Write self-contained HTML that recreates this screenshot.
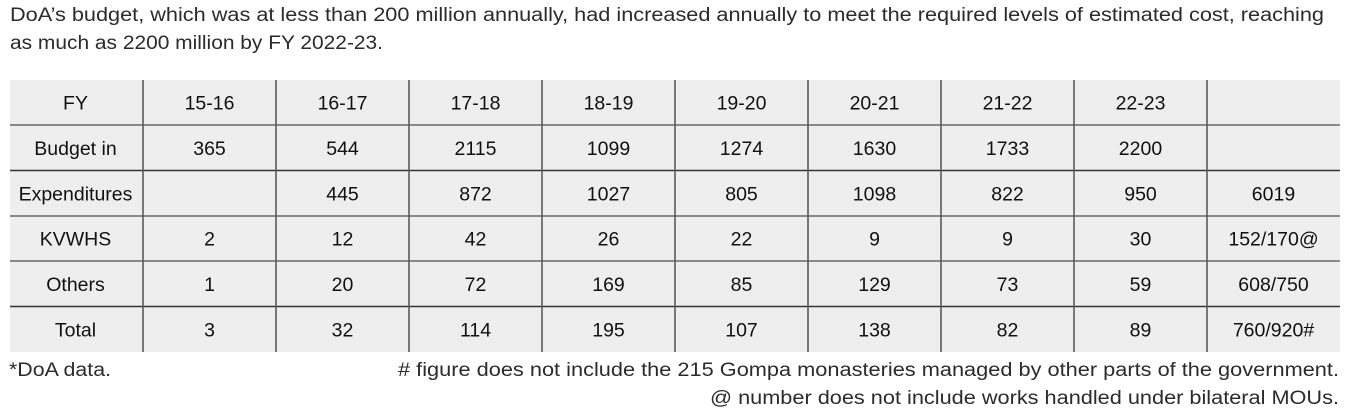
<!DOCTYPE html>
<html><head><meta charset="utf-8"><style>
html,body{margin:0;padding:0;background:#fff;width:1349px;height:415px;overflow:hidden}
svg{display:block}
.p{font-family:"Liberation Sans",sans-serif;font-size:19px;fill:#2b2b2b}
.c{font-family:"Liberation Sans",sans-serif;font-size:19.5px;fill:#111;text-anchor:middle}
</style></head><body>
<svg width="1349" height="415" viewBox="0 0 1349 415" xmlns="http://www.w3.org/2000/svg">
<text class="p" x="10" y="21" textLength="1314" lengthAdjust="spacingAndGlyphs">DoA’s budget, which was at less than 200 million annually, had increased annually to meet the required levels of estimated cost, reaching</text>
<text class="p" x="10" y="49" textLength="373" lengthAdjust="spacingAndGlyphs">as much as 2200 million by FY 2022-23.</text>
<rect x="10" y="80" width="1330" height="272" fill="#eeeeee"/>
<g stroke="#8a8a8a" stroke-width="2">
<line x1="10" y1="125" x2="1340" y2="125"/>
<line x1="10" y1="216" x2="1340" y2="216"/>
<line x1="10" y1="261" x2="1340" y2="261"/>
</g>
<g stroke="#333" stroke-width="1.6">
<line x1="10" y1="170.5" x2="1340" y2="170.5"/>
<line x1="10" y1="306.5" x2="1340" y2="306.5"/>
</g>
<g stroke="#5a5a5a" stroke-width="1.6">
<line x1="143" y1="80" x2="143" y2="352"/>
<line x1="276" y1="80" x2="276" y2="352"/>
<line x1="409" y1="80" x2="409" y2="352"/>
<line x1="542" y1="80" x2="542" y2="352"/>
<line x1="675" y1="80" x2="675" y2="352"/>
<line x1="808" y1="80" x2="808" y2="352"/>
<line x1="941" y1="80" x2="941" y2="352"/>
<line x1="1074" y1="80" x2="1074" y2="352"/>
<line x1="1207" y1="80" x2="1207" y2="352"/>
</g>
<g class="c">
<text x="75.5" y="109.5">FY</text><text x="209.5" y="109.5">15-16</text><text x="342.5" y="109.5">16-17</text><text x="475.5" y="109.5">17-18</text><text x="608.5" y="109.5">18-19</text><text x="741.5" y="109.5">19-20</text><text x="874.5" y="109.5">20-21</text><text x="1007.5" y="109.5">21-22</text><text x="1140.5" y="109.5">22-23</text>
<text x="75.5" y="155">Budget in</text><text x="209.5" y="155">365</text><text x="342.5" y="155">544</text><text x="475.5" y="155">2115</text><text x="608.5" y="155">1099</text><text x="741.5" y="155">1274</text><text x="874.5" y="155">1630</text><text x="1007.5" y="155">1733</text><text x="1140.5" y="155">2200</text>
<text x="75.5" y="200.5">Expenditures</text><text x="342.5" y="200.5">445</text><text x="475.5" y="200.5">872</text><text x="608.5" y="200.5">1027</text><text x="741.5" y="200.5">805</text><text x="874.5" y="200.5">1098</text><text x="1007.5" y="200.5">822</text><text x="1140.5" y="200.5">950</text><text x="1273.5" y="200.5">6019</text>
<text x="75.5" y="245.5">KVWHS</text><text x="209.5" y="245.5">2</text><text x="342.5" y="245.5">12</text><text x="475.5" y="245.5">42</text><text x="608.5" y="245.5">26</text><text x="741.5" y="245.5">22</text><text x="874.5" y="245.5">9</text><text x="1007.5" y="245.5">9</text><text x="1140.5" y="245.5">30</text><text x="1273.5" y="245.5">152/170@</text>
<text x="75.5" y="291">Others</text><text x="209.5" y="291">1</text><text x="342.5" y="291">20</text><text x="475.5" y="291">72</text><text x="608.5" y="291">169</text><text x="741.5" y="291">85</text><text x="874.5" y="291">129</text><text x="1007.5" y="291">73</text><text x="1140.5" y="291">59</text><text x="1273.5" y="291">608/750</text>
<text x="75.5" y="336.5">Total</text><text x="209.5" y="336.5">3</text><text x="342.5" y="336.5">32</text><text x="475.5" y="336.5">114</text><text x="608.5" y="336.5">195</text><text x="741.5" y="336.5">107</text><text x="874.5" y="336.5">138</text><text x="1007.5" y="336.5">82</text><text x="1140.5" y="336.5">89</text><text x="1273.5" y="336.5">760/920#</text>
</g>
<text class="p" x="9" y="376" textLength="102" lengthAdjust="spacingAndGlyphs">*DoA data.</text>
<text class="p" x="398" y="376" textLength="941" lengthAdjust="spacingAndGlyphs"># figure does not include the 215 Gompa monasteries managed by other parts of the government.</text>
<text class="p" x="710" y="404" textLength="629" lengthAdjust="spacingAndGlyphs">@ number does not include works handled under bilateral MOUs.</text>
</svg>
</body></html>
